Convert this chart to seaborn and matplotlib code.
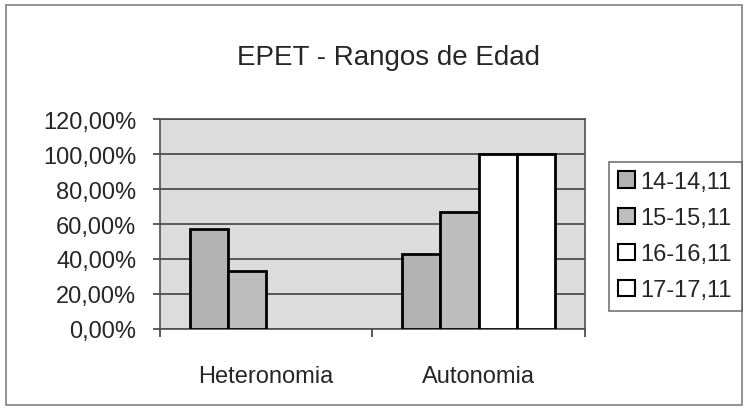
import pandas as pd
import matplotlib
matplotlib.use("Agg")
import matplotlib.pyplot as plt
import matplotlib.patches as mpatches
from matplotlib.ticker import FuncFormatter, FixedLocator
import seaborn as sns

# data (percent)
grupos = ["Heteronomia", "Heteronomia", "Autonomia", "Autonomia", "Autonomia", "Autonomia"]
rangos = ["14-14,11", "15-15,11", "14-14,11", "15-15,11", "16-16,11", "17-17,11"]
valores = [57.14, 33.33, 42.86, 66.67, 100.0, 100.0]

rango_orden = ["14-14,11", "15-15,11", "16-16,11", "17-17,11"]
colores = {"14-14,11": "#b3b3b3", "15-15,11": "#bdbdbd",
           "16-16,11": "#ffffff", "17-17,11": "#ffffff"}

df = pd.DataFrame({"grupo": grupos, "rango": rangos, "valor": valores})

sns.set_style("white")
plt.rcParams["font.family"] = ["Liberation Sans", "DejaVu Sans"]

fig = plt.figure(figsize=(7.47, 4.14), dpi=100)
ax = fig.add_axes([0.214, 0.203, 0.569, 0.507])

sns.barplot(data=df, x="grupo", y="valor", hue="rango", hue_order=rango_orden,
            order=["Heteronomia", "Autonomia"], palette=colores, width=0.72,
            edgecolor="black", linewidth=2, ax=ax, legend=False, zorder=3)

ax.set_facecolor("#dcdcdc")
ax.set_ylim(0, 120)
ax.set_xlim(-0.5, 1.5)
ax.set_yticks([0, 20, 40, 60, 80, 100, 120])
ax.yaxis.set_major_formatter(FuncFormatter(lambda v, p: f"{v:.2f}%".replace(".", ",")))
ax.grid(axis="y", color="#404040", linewidth=1.2, zorder=1)
ax.set_axisbelow(True)
for s in ax.spines.values():
    s.set_color("#505050")
    s.set_linewidth(1.2)
ax.set_xlabel("")
ax.set_ylabel("")
ax.tick_params(axis="y", labelsize=17, length=5, width=1.2, color="#404040",
               direction="out", left=True, pad=12)
ax.tick_params(axis="x", labelsize=17, length=0, pad=26)
ax.xaxis.set_minor_locator(FixedLocator([-0.5, 0.5, 1.5]))
ax.tick_params(axis="x", which="minor", length=6, width=1.2, color="#404040",
               direction="out", bottom=True)

fig.text(0.52, 0.86, "EPET - Rangos de Edad", ha="center", va="center", fontsize=20)

handles = [mpatches.Patch(facecolor=colores[r], edgecolor="black", linewidth=1.5, label=r)
           for r in rango_orden]
leg = fig.legend(handles=handles, loc="center left", bbox_to_anchor=(0.815, 0.427),
                 fontsize=17, frameon=True, fancybox=False, handlelength=0.7,
                 handleheight=0.7, handletextpad=0.25, labelspacing=0.6,
                 borderpad=0.4, borderaxespad=0)
leg.get_frame().set_edgecolor("#505050")
leg.get_frame().set_linewidth(1.2)

fig.patches.append(mpatches.Rectangle((0.008, 0.02), 0.985, 0.965, transform=fig.transFigure,
                                      fill=False, edgecolor="#808080", linewidth=1.2))

fig.savefig("out.png", dpi=100)
